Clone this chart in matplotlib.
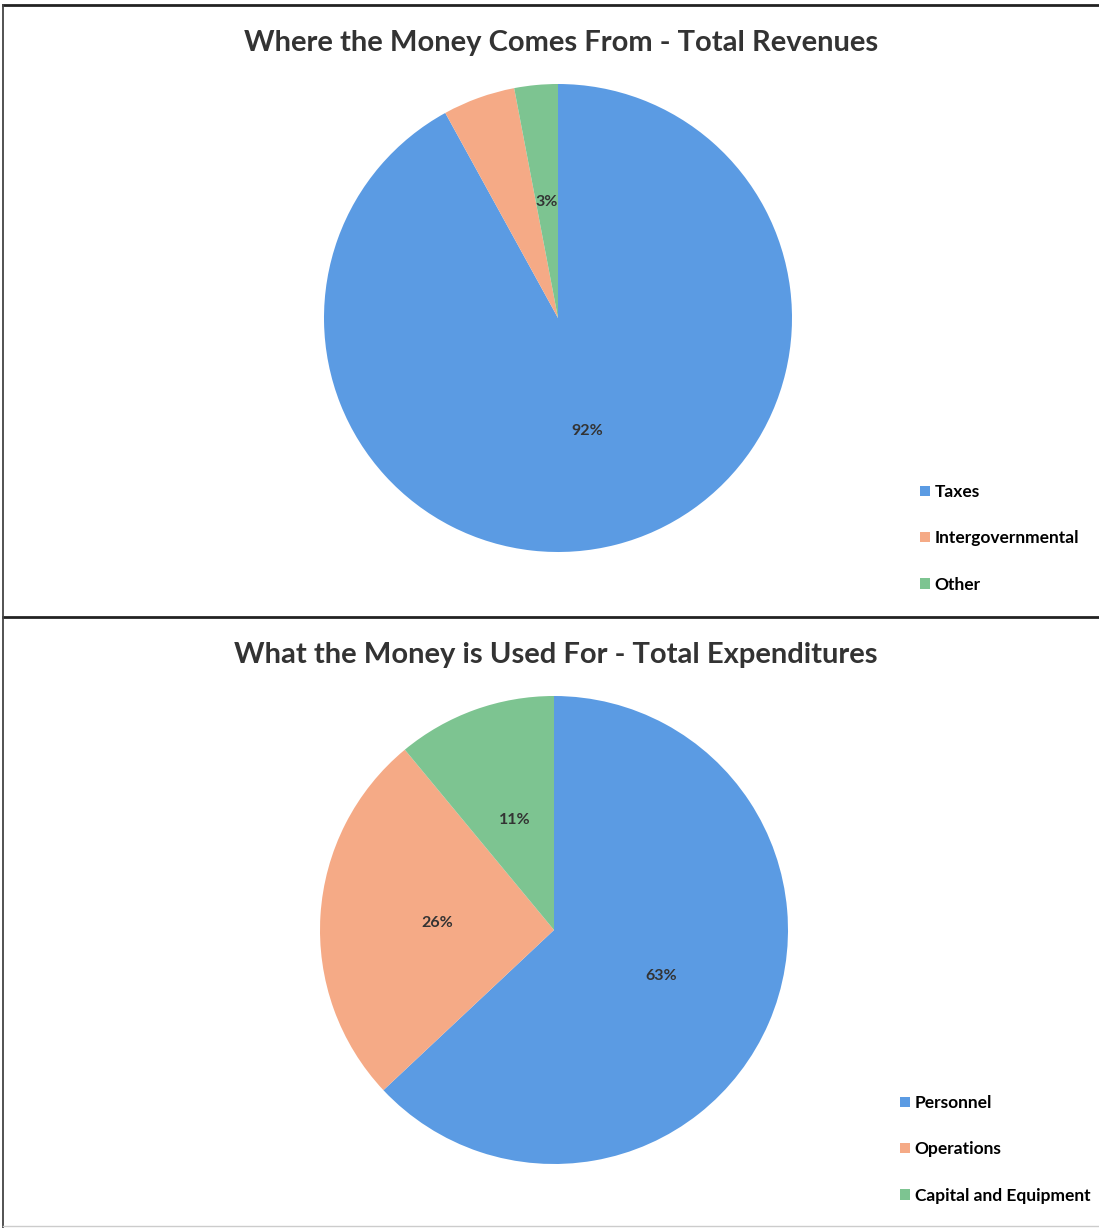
import matplotlib.pyplot as plt
from matplotlib.lines import Line2D

# revenue / expenditure shares (percent)
rev_labels = ['Taxes', 'Intergovernmental', 'Other']
rev_values = [92, 5, 3]
exp_labels = ['Personnel', 'Operations', 'Capital and Equipment']
exp_values = [63, 26, 11]

colors = ['#5b9be3', '#f5aa86', '#7dc491']
FONT = 'Lato'

W, H = 1099, 1228
fig = plt.figure(figsize=(W / 100, H / 100), dpi=100)


def px_axes(cx, cy, r):
    # axes box from a pixel centre/radius
    return fig.add_axes([(cx - r) / W, 1 - (cy + r) / H, 2 * r / W, 2 * r / H])


def draw_pie(ax, values, labels, hide_pct=()):
    wedges, texts, autotexts = ax.pie(
        values, colors=colors, startangle=90, counterclock=False,
        autopct=lambda p: f'{p:.0f}%', pctdistance=0.5, radius=1.0,
        textprops=dict(fontsize=11.5, fontweight='bold', color='#333333', family=FONT))
    for i in hide_pct:
        autotexts[i].set_visible(False)
    ax.set_xlim(-1, 1)
    ax.set_ylim(-1, 1)
    ax.set_aspect('equal')
    ax.axis('off')
    return wedges


def draw_legend(wedges, labels, x, y):
    fig.legend(wedges, labels, loc='upper left',
               bbox_to_anchor=(x / W, 1 - y / H), frameon=False,
               prop=dict(family=FONT, weight='bold', size=12.5),
               handlelength=0.55, handleheight=0.55, handletextpad=0.3,
               labelspacing=1.75, borderpad=0, borderaxespad=0)


# top: revenues
ax1 = px_axes(558, 318, 234)
w1 = draw_pie(ax1, rev_values, rev_labels, hide_pct=(1,))
fig.text(561 / W, 1 - 43 / H, 'Where the Money Comes From - Total Revenues',
         ha='center', va='center', fontsize=21, fontweight='bold',
         color='#333333', family=FONT)
draw_legend(w1, rev_labels, 920, 484)

# bottom: expenditures
ax2 = px_axes(554, 930, 234)
w2 = draw_pie(ax2, exp_values, exp_labels)
fig.text(556 / W, 1 - 655 / H, 'What the Money is Used For - Total Expenditures',
         ha='center', va='center', fontsize=21, fontweight='bold',
         color='#333333', family=FONT)
draw_legend(w2, exp_labels, 900, 1095)

# page frame lines
line_kw = dict(color='#222222', linewidth=2, transform=fig.transFigure)
fig.add_artist(Line2D([3 / W, 1], [1 - 5 / H, 1 - 5 / H], **line_kw))
fig.add_artist(Line2D([3 / W, 1], [1 - 617 / H, 1 - 617 / H], **line_kw))
fig.add_artist(Line2D([3 / W, 3 / W], [1 - 5 / H, 0], color='#444444',
                      linewidth=1.3, transform=fig.transFigure))
fig.add_artist(Line2D([3 / W, 1], [1 - 1226 / H, 1 - 1226 / H],
                      color='#cccccc', linewidth=1, transform=fig.transFigure))

fig.savefig('out.png', dpi=100)
